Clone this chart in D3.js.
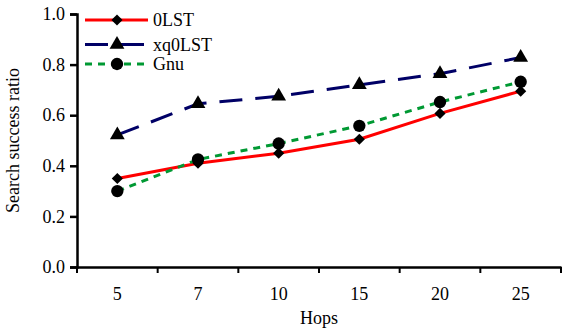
<!DOCTYPE html>
<html>
<head>
<meta charset="utf-8">
<script src="https://cdn.jsdelivr.net/npm/d3@7"></script>
<style>
  body { margin: 0; background: #fff; }
  text { font-family: "Liberation Serif", "Times New Roman", serif; }
</style>
</head>
<body>
<svg width="565" height="328"></svg>
<script>
var hops = ["5", "7", "10", "15", "20", "25"];
var olst = [0.35, 0.41, 0.45, 0.505, 0.607, 0.695];
var xqolst = [0.522, 0.645, 0.675, 0.72, 0.764, 0.828];
var gnu = [0.30, 0.425, 0.488, 0.558, 0.652, 0.732];
var yTicks = [0, 0.2, 0.4, 0.6, 0.8, 1.0];

var margin = {top: 14, right: 4, bottom: 61, left: 77},
    width = 565 - margin.left - margin.right,
    height = 328 - margin.top - margin.bottom;

var svg = d3.select("svg")
  .append("g")
    .attr("transform", "translate(" + margin.left + "," + margin.top + ")");

var x = d3.scaleBand()
  .domain(hops)
  .range([0, width]);

var y = d3.scaleLinear()
  .domain([0, 1])
  .range([height, 0]);

// Y axis
var yAxis = svg.append("g")
  .call(d3.axisLeft(y).tickValues(yTicks).tickFormat(d3.format(".1f")).tickSize(7).tickPadding(5));
yAxis.selectAll("text").style("font-size", "18px").style("fill", "#000");

// X axis: ticks at band boundaries
var xAxis = svg.append("g")
  .attr("transform", "translate(0," + height + ")")
  .call(d3.axisBottom(x).tickSize(0).tickPadding(20));
xAxis.selectAll("text").style("font-size", "18px").style("fill", "#000");
xAxis.selectAll(".tick line").remove();
xAxis.selectAll(".boundary")
  .data(hops.concat(["end"]))
  .enter()
  .append("line")
    .attr("x1", function(d, i) { return i * x.step(); })
    .attr("x2", function(d, i) { return i * x.step(); })
    .attr("y1", 0)
    .attr("y2", 6)
    .attr("stroke", "#000")
    .attr("stroke-width", 2);

svg.selectAll(".domain").attr("stroke", "#000").attr("stroke-width", 2.5);
yAxis.selectAll(".tick line").attr("stroke-width", 2.5);

// Axis titles
svg.append("text")
  .attr("x", width / 2)
  .attr("y", height + 57)
  .attr("text-anchor", "middle")
  .style("font-size", "18px")
  .text("Hops");

svg.append("text")
  .attr("transform", "translate(-58," + (height / 2) + ")rotate(-90)")
  .attr("text-anchor", "middle")
  .style("font-size", "18px")
  .text("Search success ratio");

var series = [
  {name: "0LST", values: olst, color: "#ff0000", dash: null, symbol: d3.symbolSquare, size: 62, rot: 45},
  {name: "xq0LST", values: xqolst, color: "#000066", dash: "23,13", symbol: d3.symbolTriangle, size: 95, rot: 0},
  {name: "Gnu", values: gnu, color: "#009933", dash: "7,6", symbol: d3.symbolCircle, size: 120, rot: 0}
];

var cx = function(i) { return x(hops[i]) + x.bandwidth() / 2; };

series.forEach(function(s) {
  var line = d3.line()
    .x(function(d, i) { return cx(i); })
    .y(function(d) { return y(d); });
  svg.append("path")
    .datum(s.values)
    .attr("fill", "none")
    .attr("stroke", s.color)
    .attr("stroke-width", 3)
    .attr("stroke-dasharray", s.dash)
    .attr("d", line);
});

series.forEach(function(s) {
  svg.selectAll(".pt-" + s.name)
    .data(s.values)
    .enter()
    .append("path")
      .attr("transform", function(d, i) { return "translate(" + cx(i) + "," + y(d) + ")rotate(" + s.rot + ")"; })
      .attr("d", d3.symbol().type(s.symbol).size(s.size))
      .attr("fill", "#000");
});

// Legend
var legend = svg.append("g")
  .attr("transform", "translate(8,6)");

series.forEach(function(s, i) {
  var row = legend.append("g")
    .attr("transform", "translate(0," + [0, 24.5, 44][i] + ")");
  row.append("line")
    .attr("x1", 0).attr("x2", 63)
    .attr("y1", 0).attr("y2", 0)
    .attr("stroke", s.color)
    .attr("stroke-width", 3)
    .attr("stroke-dasharray", s.dash);
  row.append("path")
    .attr("transform", "translate(32,0)rotate(" + s.rot + ")")
    .attr("d", d3.symbol().type(s.symbol).size(s.size))
    .attr("fill", "#000");
  row.append("text")
    .attr("x", 68)
    .attr("y", 6)
    .style("font-size", "18px")
    .text(s.name);
});
</script>
</body>
</html>
